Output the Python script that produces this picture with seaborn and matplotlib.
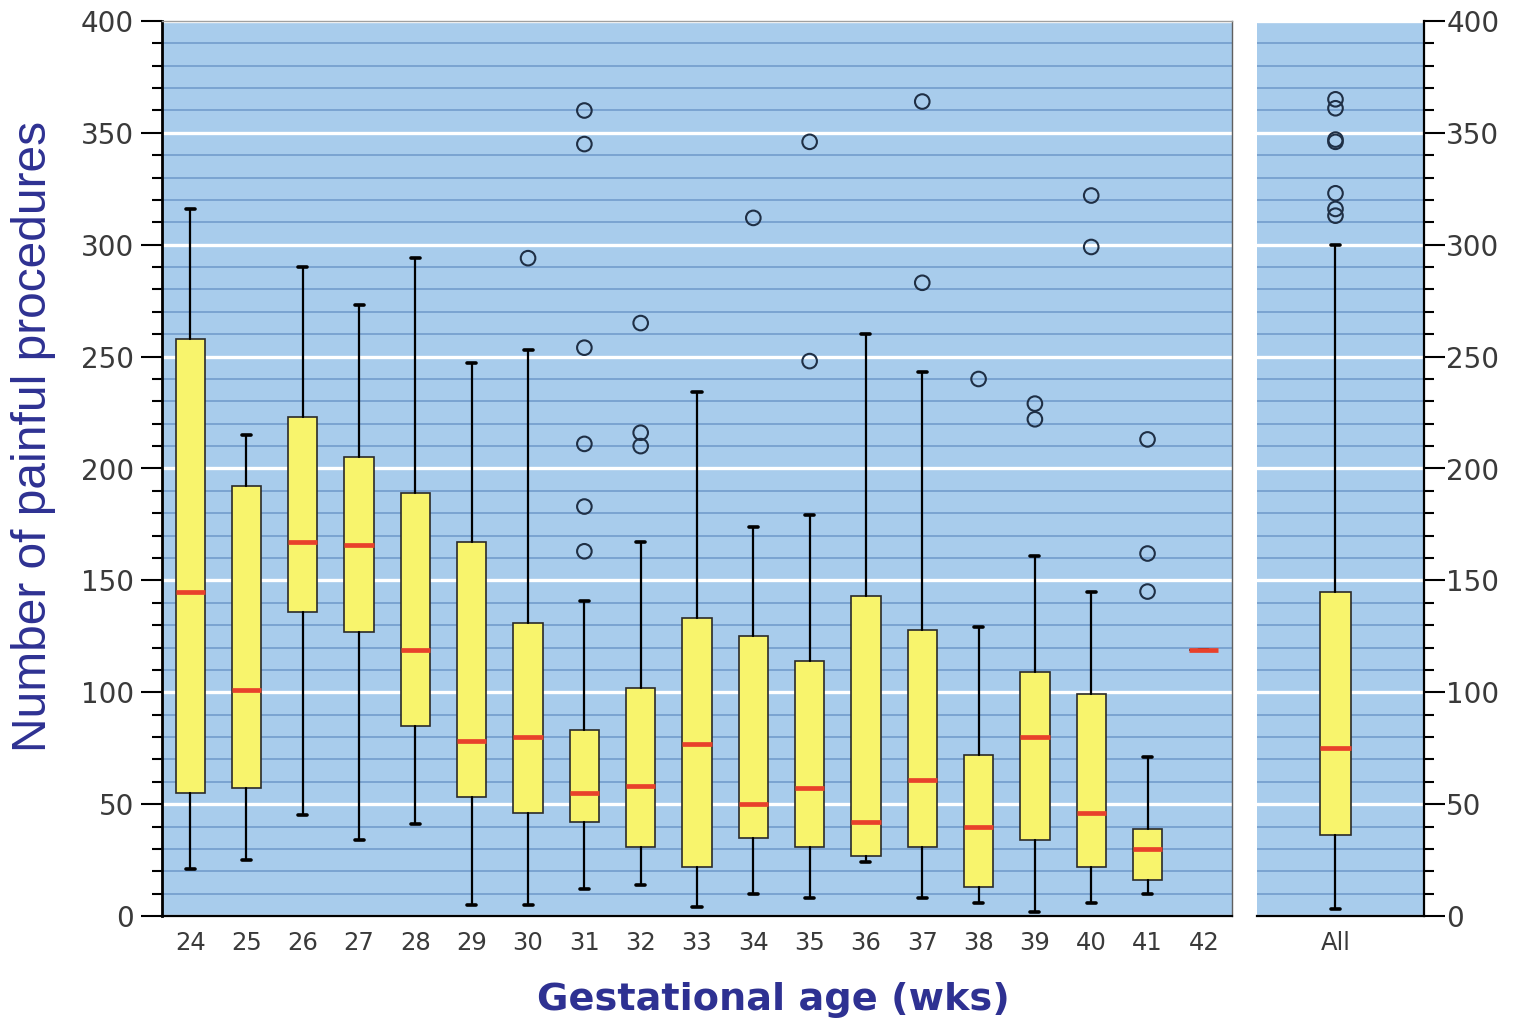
import matplotlib
matplotlib.use("Agg")
import matplotlib.pyplot as plt
import seaborn as sns
import pandas as pd

# ---------------- data ----------------
ages = ['24', '25', '26', '27', '28', '29', '30', '31', '32', '33',
        '34', '35', '36', '37', '38', '39', '40', '41', '42']
whisk_lo = [21, 25, 45, 34, 41, 5, 5, 12, 14, 4, 10, 8, 24, 8, 6, 2, 6, 10, 119]
q1 = [55, 57, 136, 127, 85, 53, 46, 42, 31, 22, 35, 31, 27, 31, 13, 34, 22, 16, 119]
median = [145, 101, 167, 166, 119, 78, 80, 55, 58, 77, 50, 57, 42, 61, 40, 80, 46, 30, 119]
q3 = [258, 192, 223, 205, 189, 167, 131, 83, 102, 133, 125, 114, 143, 128, 72, 109, 99, 39, 119]
whisk_hi = [316, 215, 290, 273, 294, 247, 253, 141, 167, 234, 174, 179, 260, 243, 129, 161, 145, 71, 119]

outlier_age = ['30', '31', '31', '31', '31', '31', '31', '32', '32', '32', '34', '35', '35',
               '37', '37', '38', '39', '39', '40', '40', '41', '41', '41']
outlier_value = [294, 360, 345, 254, 211, 183, 163, 265, 216, 210, 312, 346, 248,
                 364, 283, 240, 229, 222, 322, 299, 213, 162, 145]

all_label = ['All']
all_whisk_lo = [3]
all_q1 = [36]
all_median = [75]
all_q3 = [145]
all_whisk_hi = [300]
all_outliers = [365, 361, 347, 346, 323, 316, 313]

# ---------------- style ----------------
sns.set_theme(style="ticks")
plt.rcParams['font.family'] = ['DejaVu Sans']

BG = '#A8CCEC'
MINOR_GRID = '#7AA3D1'
BOX = '#F8F46C'
MED = '#E8412B'
TICKC = '#3a3a3a'
LABELC = '#2E3192'
FLIER = '#1F2F45'

W, H = 1517, 1024
fig = plt.figure(figsize=(W / 100, H / 100), dpi=100)
fig.patch.set_facecolor('white')
ax1 = fig.add_axes([162 / W, 108 / H, 1070 / W, 895 / H])
ax2 = fig.add_axes([1257 / W, 108 / H, 167 / W, 895 / H])


def make_stats(labels, lo, a, m, b, hi):
    return [dict(label=l, whislo=w0, q1=x1, med=x2, q3=x3, whishi=w1, fliers=[])
            for l, w0, x1, x2, x3, w1 in zip(labels, lo, a, m, b, hi)]


common = dict(patch_artist=True, showfliers=False, manage_ticks=False,
              boxprops=dict(facecolor=BOX, edgecolor='#2a2a2a', linewidth=1.2),
              medianprops=dict(color=MED, linewidth=3.4, solid_capstyle='butt'),
              whiskerprops=dict(color='black', linewidth=1.6),
              capprops=dict(color='black', linewidth=2.6))

stats1 = make_stats(ages, whisk_lo, q1, median, q3, whisk_hi)
ax1.bxp(stats1, positions=list(range(len(ages))), widths=0.52, capwidths=0.16, **common)

stats2 = make_stats(all_label, all_whisk_lo, all_q1, all_median, all_q3, all_whisk_hi)
ax2.bxp(stats2, positions=[0], widths=0.19, capwidths=0.055, **common)

# outliers through seaborn
df_out = pd.DataFrame({'pos': [ages.index(a) for a in outlier_age], 'value': outlier_value})
sns.scatterplot(data=df_out, x='pos', y='value', ax=ax1, marker='o', s=110,
                facecolor='none', edgecolor=FLIER, linewidth=1.5, legend=False, zorder=5)
ax1.collections[-1].set_facecolor('none')
df_all = pd.DataFrame({'pos': [0] * len(all_outliers), 'value': all_outliers})
sns.scatterplot(data=df_all, x='pos', y='value', ax=ax2, marker='o', s=110,
                facecolor='none', edgecolor=FLIER, linewidth=1.5, legend=False, zorder=5)
ax2.collections[-1].set_facecolor('none')

# ---------------- axes cosmetics ----------------
for ax in (ax1, ax2):
    ax.set_facecolor(BG)
    ax.set_ylim(0, 400)
    ax.set_yticks(range(0, 401, 50))
    ax.set_yticks(range(0, 401, 10), minor=True)
    ax.grid(which='minor', axis='y', color=MINOR_GRID, linewidth=1.4)
    ax.grid(which='major', axis='y', color='white', linewidth=2.4)
    ax.grid(which='both', axis='x', visible=False)
    ax.set_axisbelow(True)
    ax.set_xlabel('')
    ax.set_ylabel('')
    ax.tick_params(axis='y', which='major', length=15, width=1.5, color='black',
                   labelsize=20, labelcolor=TICKC, direction='out')
    ax.tick_params(axis='y', which='minor', length=7.5, width=1.5, color='black',
                   direction='out')
    ax.tick_params(axis='x', length=0, labelsize=17.5, labelcolor=TICKC, pad=11)

ax1.set_xlim(-0.5, len(ages) - 0.5)
ax1.set_xticks(range(len(ages)))
ax1.set_xticklabels(ages)
ax1.tick_params(axis='y', which='major', pad=5)
ax1.spines['left'].set_color('black')
ax1.spines['left'].set_linewidth(2.0)
ax1.spines['bottom'].set_color('black')
ax1.spines['bottom'].set_linewidth(1.6)
ax1.spines['top'].set_color('#a0a0a0')
ax1.spines['top'].set_linewidth(1.0)
ax1.spines['right'].set_color('#606060')
ax1.spines['right'].set_linewidth(1.0)

ax2.set_xlim(-0.47, 0.53)
ax2.set_xticks([0])
ax2.set_xticklabels(all_label)
ax2.yaxis.tick_right()
ax2.tick_params(axis='y', which='major', pad=1)
ax2.spines['left'].set_visible(False)
ax2.spines['top'].set_visible(False)
ax2.spines['right'].set_color('black')
ax2.spines['right'].set_linewidth(1.6)
ax2.spines['bottom'].set_color('black')
ax2.spines['bottom'].set_linewidth(1.6)

fig.text(34 / W, 1 - 436 / H, 'Number of painful procedures', rotation=90,
         ha='center', va='center', fontsize=34.5, color=LABELC,
         family=['Liberation Sans', 'DejaVu Sans'])
fig.text(773 / W, 1 - 1000 / H, 'Gestational age (wks)', ha='center', va='center',
         fontsize=27.5, fontweight='bold', color=LABELC, family=['DejaVu Sans'])

fig.savefig('out.png', dpi=100, facecolor='white')
